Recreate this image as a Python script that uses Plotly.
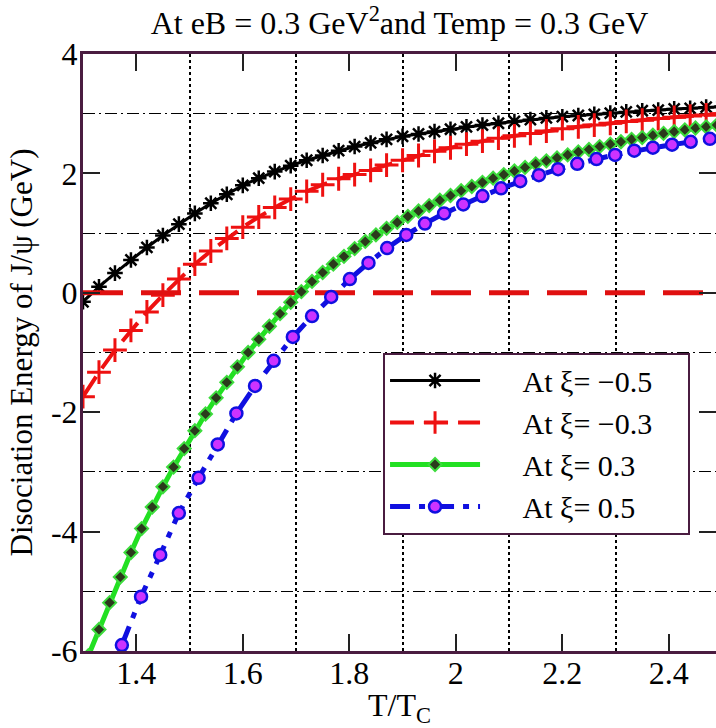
import plotly.graph_objects as go

# ---------------- data ----------------
black_x = [1.30, 1.33, 1.36, 1.39, 1.42, 1.45, 1.48, 1.51, 1.54, 1.57, 1.60, 1.63, 1.66, 1.69,
           1.72, 1.75, 1.78, 1.81, 1.84, 1.87, 1.90, 1.93, 1.96, 1.99, 2.02, 2.05, 2.08, 2.11,
           2.14, 2.17, 2.20, 2.23, 2.26, 2.29, 2.32, 2.35, 2.38, 2.41, 2.44, 2.47, 2.50]
black_y = [-0.15, 0.10, 0.33, 0.55, 0.76, 0.96, 1.15, 1.33, 1.50, 1.65, 1.80, 1.92, 2.03, 2.13,
           2.22, 2.30, 2.38, 2.45, 2.51, 2.57, 2.62, 2.66, 2.70, 2.74, 2.78, 2.81, 2.84, 2.87,
           2.90, 2.93, 2.95, 2.97, 2.99, 3.01, 3.03, 3.05, 3.06, 3.08, 3.09, 3.11, 3.12]

red_x = black_x
red_y = [-1.74, -1.33, -0.96, -0.63, -0.32, -0.04, 0.23, 0.48, 0.70, 0.91, 1.10, 1.27, 1.43, 1.57,
         1.70, 1.81, 1.91, 1.98, 2.05, 2.14, 2.22, 2.30, 2.37, 2.43, 2.49, 2.54, 2.59, 2.63,
         2.67, 2.71, 2.75, 2.78, 2.81, 2.84, 2.87, 2.89, 2.92, 2.94, 2.96, 2.98, 3.00]

green_x = [1.31, 1.33, 1.35, 1.37, 1.39, 1.41, 1.43, 1.45, 1.47, 1.49, 1.51, 1.53, 1.55, 1.57,
           1.59, 1.61, 1.63, 1.65, 1.67, 1.69, 1.71, 1.73, 1.75, 1.77, 1.79, 1.81, 1.83, 1.85,
           1.87, 1.89, 1.91, 1.93, 1.95, 1.97, 1.99, 2.01, 2.03, 2.05, 2.07, 2.09, 2.11, 2.13,
           2.15, 2.17, 2.19, 2.21, 2.23, 2.25, 2.27, 2.29, 2.31, 2.33, 2.35, 2.37, 2.39, 2.41,
           2.43, 2.45, 2.47, 2.49]
green_y = [-6.08, -5.64, -5.19, -4.76, -4.35, -3.95, -3.59, -3.25, -2.92, -2.61, -2.31, -2.03,
           -1.76, -1.50, -1.24, -1.00, -0.78, -0.56, -0.35, -0.16, 0.02, 0.19, 0.34, 0.48, 0.61,
           0.74, 0.86, 0.97, 1.08, 1.18, 1.28, 1.37, 1.46, 1.55, 1.63, 1.71, 1.78, 1.85, 1.92,
           1.98, 2.04, 2.10, 2.16, 2.21, 2.26, 2.31, 2.36, 2.40, 2.45, 2.49, 2.53, 2.57, 2.60,
           2.64, 2.67, 2.70, 2.73, 2.76, 2.78, 2.81]

blue_x = [1.373, 1.409, 1.445, 1.480, 1.517, 1.553, 1.588, 1.623, 1.658, 1.694, 1.730, 1.766,
          1.801, 1.836, 1.871, 1.907, 1.942, 1.978, 2.014, 2.050, 2.085, 2.121, 2.156, 2.192,
          2.228, 2.264, 2.299, 2.335, 2.370, 2.406, 2.441, 2.477]
blue_y = [-5.90, -5.09, -4.39, -3.69, -3.10, -2.54, -2.02, -1.56, -1.14, -0.74, -0.39, -0.07,
          0.23, 0.50, 0.75, 0.97, 1.16, 1.33, 1.48, 1.62, 1.75, 1.87, 1.97, 2.07, 2.16, 2.24,
          2.31, 2.38, 2.43, 2.48, 2.53, 2.58]

zero_x = [1.30, 2.50]
zero_y = [0.0, 0.0]

x_ticks = [1.4, 1.6, 1.8, 2.0, 2.2, 2.4]
x_ticktext = ["1.4", "1.6", "1.8", "2", "2.2", "2.4"]
x_grid = [1.5, 1.7, 1.9, 2.1, 2.3]
y_ticks = [-6, -4, -2, 0, 2, 4]
y_ticktext = ["-6", "-4", "-2", "0", "2", "4"]
y_grid = [-5, -3, -1, 1, 3]

NB = "\u00a0"
names = ["At \u03be= \u22120.5", "At \u03be= \u22120.3", "At \u03be= 0.3", "At \u03be= 0.5"]
legend_names = [NB * 5 + n + NB * 4 for n in names]

# ---------------- figure ----------------
SERIF = "'Liberation Serif', 'Times New Roman', Times, serif"
fig = go.Figure()

fig.add_trace(go.Scatter(
    x=black_x, y=black_y, mode="lines+markers", name=legend_names[0], legendgroup="a",
    line=dict(color="black", width=3),
    marker=dict(symbol="asterisk-open", size=13, color="black", line=dict(color="black", width=2.5))))

fig.add_trace(go.Scatter(
    x=red_x, y=red_y, mode="lines+markers", name=legend_names[1], legendgroup="b",
    line=dict(color="#ee1111", width=4, dash="24px,10px"),
    marker=dict(symbol="cross-thin-open", size=17, color="#ee1111", line=dict(color="#ee1111", width=3))))

fig.add_trace(go.Scatter(
    x=zero_x, y=zero_y, mode="lines", showlegend=False, hoverinfo="skip",
    line=dict(color="#e01010", width=5, dash="40px,18px")))

fig.add_trace(go.Scatter(
    x=green_x, y=green_y, mode="lines+markers", name=legend_names[2], legendgroup="c",
    line=dict(color="#22e022", width=5),
    marker=dict(symbol="diamond", size=10, color="#2b3a1c", line=dict(color="#3ddc3d", width=2))))

fig.add_trace(go.Scatter(
    x=blue_x, y=blue_y, mode="lines+markers", name=legend_names[3], legendgroup="d",
    line=dict(color="#1010e0", width=5, dash="20px,9px,6px,9px"),
    marker=dict(symbol="circle", size=12, color="#cc33ff", line=dict(color="#1010e0", width=2.5))))

# right-side ticks of the y axis (image is cropped just before the right frame line)
fig.add_trace(go.Scatter(x=[None], y=[None], yaxis="y2", showlegend=False, hoverinfo="skip"))

axis_line = "#4a1c40"
fig.update_layout(
    width=716, height=728,
    margin=dict(l=83, r=0, t=54, b=77),
    paper_bgcolor="white", plot_bgcolor="white",
    font=dict(family=SERIF, color="black", size=30),
    title=dict(text="At eB = 0.3 GeV<sup>2</sup>and Temp = 0.3 GeV",
               x=0.5, xref="paper", xanchor="center",
               y=1 - 23 / 728, yref="container", yanchor="middle",
               font=dict(family=SERIF, size=32, color="black")),
    xaxis=dict(range=[1.3, 2.4885], tickvals=x_ticks, ticktext=x_ticktext,
               ticks="inside", ticklen=17, tickwidth=2, tickcolor="#222222",
               showline=True, linecolor=axis_line, linewidth=3, mirror="ticks",
               showgrid=False, zeroline=False, ticklabelstandoff=-8,
               tickfont=dict(family=SERIF, size=32),
               minor=dict(tickvals=x_grid, showgrid=True, gridcolor="black",
                          gridwidth=1.5, griddash="dot", ticks=""),
               title=dict(text="T/T<sub>C</sub>", font=dict(family=SERIF, size=32), standoff=0)),
    yaxis=dict(range=[-6, 4], tickvals=y_ticks, ticktext=y_ticktext,
               ticks="inside", ticklen=17, tickwidth=2, tickcolor="#222222",
               showline=True, linecolor=axis_line, linewidth=3,
               showgrid=False, zeroline=False, ticklabelstandoff=-4,
               tickfont=dict(family=SERIF, size=32),
               minor=dict(tickvals=y_grid, showgrid=True, gridcolor="black",
                          gridwidth=1.3, griddash="12px,4px,2px,4px", ticks=""),
               title=dict(text="Disociation Energy of J/\u03c8 (GeV)",
                          font=dict(family=SERIF, size=31), standoff=10)),
    yaxis2=dict(range=[-6, 4], overlaying="y", side="right", tickvals=y_ticks,
                ticks="inside", ticklen=17, tickwidth=2, tickcolor="#222222",
                showticklabels=False, showline=False, showgrid=False, zeroline=False),
    legend=dict(x=0.474, y=0.50, xanchor="left", yanchor="top",
                bgcolor="white", bordercolor=axis_line, borderwidth=2,
                font=dict(family=SERIF, size=30, color="black"),
                tracegroupgap=0, itemwidth=90),
    showlegend=True,
)

fig.write_html("out.html")
